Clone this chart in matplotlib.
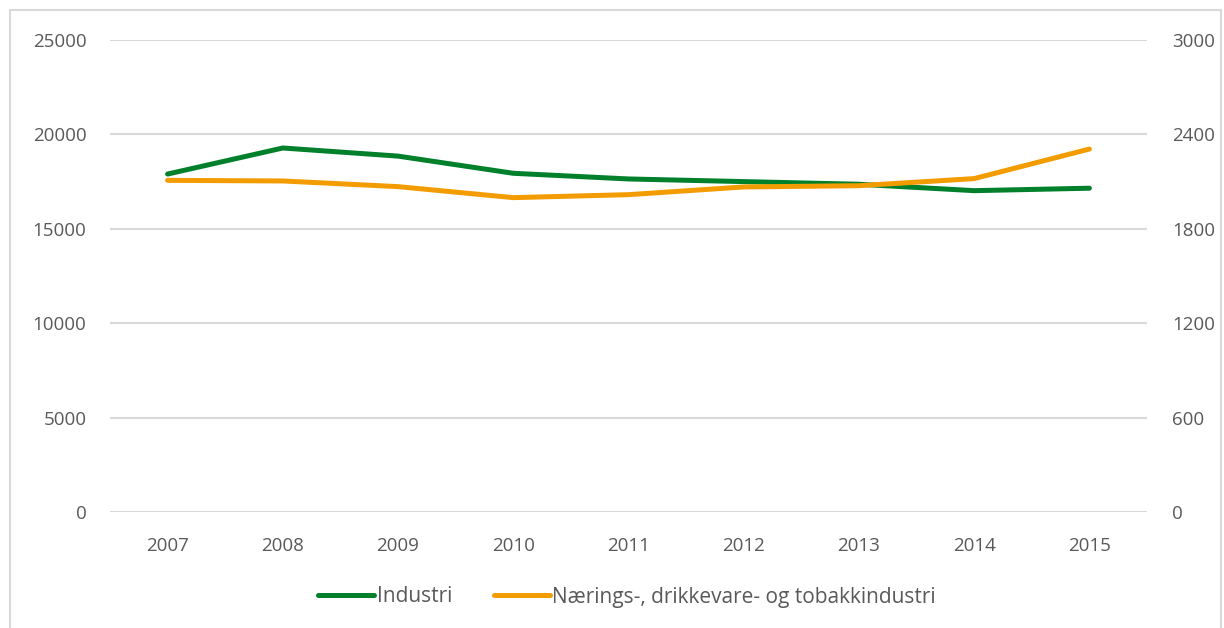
import matplotlib.pyplot as plt
from matplotlib.patches import Rectangle

# Data
years = ['2007', '2008', '2009', '2010', '2011', '2012', '2013', '2014', '2015']
industri = [17900, 19280, 18850, 17940, 17640, 17500, 17360, 17020, 17150]
naerings = [2108, 2104, 2068, 1998, 2017, 2066, 2074, 2119, 2307]

left_ticks = [0, 5000, 10000, 15000, 20000, 25000]
right_ticks = [0, 600, 1200, 1800, 2400, 3000]

green = '#00802B'
orange = '#F39C00'
grey_text = '#595959'
grid_col = '#D9D9D9'

plt.rcParams['font.family'] = ['Open Sans', 'DejaVu Sans']
plt.rcParams['font.size'] = 13.5

fig = plt.figure(figsize=(12.24, 6.28), dpi=100)
ax = fig.add_axes([110 / 1224, 1 - 512 / 628, (1147 - 110) / 1224, (512 - 40) / 628])
ax2 = ax.twinx()

x = range(len(years))
l1, = ax.plot(x, industri, color=green, lw=3.6, solid_capstyle='round', label='Industri', zorder=3)
l2, = ax2.plot(x, naerings, color=orange, lw=3.6, solid_capstyle='round',
               label='Nærings-, drikkevare- og tobakkindustri', zorder=3)

ax.set_xlim(-0.5, len(years) - 0.5)
ax.set_ylim(0, 25000)
ax2.set_ylim(0, 3000)
ax.set_yticks(left_ticks)
ax2.set_yticks(right_ticks)
ax.set_xticks(list(x))
ax.set_xticklabels(years)

ax.yaxis.grid(True, color=grid_col, lw=1.5)
ax.set_axisbelow(True)
for a in (ax, ax2):
    for s in a.spines.values():
        s.set_visible(False)
    a.tick_params(length=0, colors=grey_text, labelsize=13.5)
ax.tick_params(axis='y', pad=17)
ax2.tick_params(axis='y', pad=18)
ax.tick_params(axis='x', pad=18)

fig.legend(handles=[l1, l2], loc='center', bbox_to_anchor=(627 / 1224, 1 - 597 / 628),
           ncol=2, frameon=False, handlelength=2.7, handletextpad=0.12,
           columnspacing=2.0, labelcolor=grey_text, fontsize=15)

# light outer frame of the chart area
fig.patches.append(Rectangle((10 / 1224, -0.05), (1221 - 10) / 1224, 1.05 - 10 / 628,
                             transform=fig.transFigure, fill=False, ec=grid_col, lw=1.5))

fig.savefig('out.png', dpi=100)
